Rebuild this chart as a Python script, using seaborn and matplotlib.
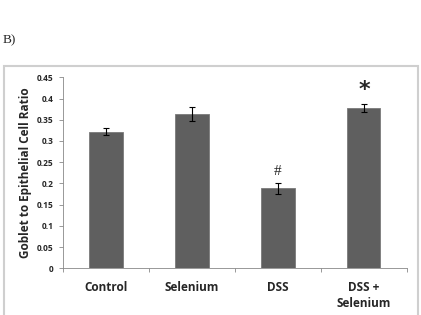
import numpy as np
import pandas as pd
import seaborn as sns
import matplotlib.pyplot as plt
from matplotlib.patches import Rectangle

# Data
groups = ['Control', 'Selenium', 'DSS', 'DSS +\nSelenium']
ratio = [0.322, 0.363, 0.189, 0.378]
ratio_err = [0.009, 0.016, 0.013, 0.010]
marks = ['', '', '#', '*']
y_ticks = [0, 0.05, 0.1, 0.15, 0.2, 0.25, 0.3, 0.35, 0.4, 0.45]
y_tick_labels = ['0', '0.05', '0.1', '0.15', '0.2', '0.25', '0.3', '0.35', '0.4', '0.45']

df = pd.DataFrame({'group': groups, 'ratio': ratio})

sns.set_style('white')
plt.rcParams['font.family'] = ['Open Sans', 'DejaVu Sans']

fig = plt.figure(figsize=(4.21, 3.15), dpi=100)
ax = fig.add_axes([0.1496, 0.148, 0.817, 0.6066])

# Outer frame around the chart
fig.patches.append(Rectangle((3.5 / 421, -0.02), 414.5 / 421, 1 - 66 / 315 + 0.02,
                             transform=fig.transFigure, fill=False,
                             edgecolor='#cfcfcf', linewidth=1.5))
fig.text(3 / 421, 1 - 40.5 / 315, 'B)', family='Liberation Serif', fontsize=9.5,
         va='center', ha='left')

sns.barplot(data=df, x='group', y='ratio', color='#5f5f5f', saturation=1,
            width=0.385, errorbar=None, edgecolor='#7a7a7a', linewidth=0.6, ax=ax)
ax.errorbar(np.arange(len(groups)), ratio, yerr=ratio_err, fmt='none',
            ecolor='black', elinewidth=0.8, capsize=2.5, capthick=0.8)

# Significance marks
for i, (m, v, e) in enumerate(zip(marks, ratio, ratio_err)):
    if m == '#':
        ax.text(i, v + e + 0.027, m, family='Liberation Serif', fontsize=11,
                ha='center', va='center')
    elif m == '*':
        ax.text(i, v + e + 0.032, m, family='DejaVu Sans', fontsize=16,
                fontweight='bold', ha='center', va='center')

ax.set_ylim(0, 0.45)
ax.set_xlim(-0.5, len(groups) - 0.5)
ax.set_yticks(y_ticks)
ax.set_yticklabels(y_tick_labels, fontsize=6, fontweight='bold')
ax.set_xticks(np.arange(len(groups)))
ax.set_xticklabels(groups, fontsize=8.5, fontweight='bold', linespacing=1.3)
ax.tick_params(axis='x', length=0, pad=9)
ax.tick_params(axis='y', length=3, width=0.6, color='#888888', pad=4, left=True)
# Category separators on x axis
ax.set_xticks(np.arange(len(groups) + 1) - 0.5, minor=True)
ax.tick_params(axis='x', which='minor', length=3, width=0.6, color='#888888', bottom=True)

ax.set_xlabel('')
ax.set_ylabel('Goblet to Epithelial Cell Ratio', fontsize=8.5, fontweight='bold',
              labelpad=3)
sns.despine(ax=ax)
for side in ['left', 'bottom']:
    ax.spines[side].set_color('#888888')
    ax.spines[side].set_linewidth(0.6)

fig.savefig('out.png', dpi=100)
